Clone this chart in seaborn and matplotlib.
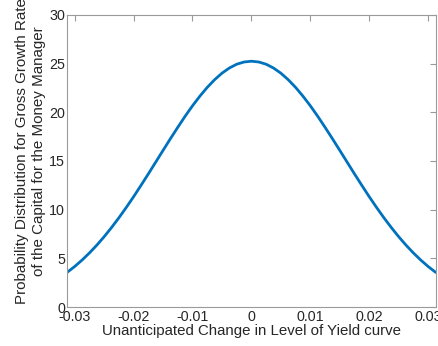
import matplotlib
matplotlib.use('Agg')
import matplotlib.pyplot as plt
import seaborn as sns
import pandas as pd

# values
change = [-0.0313, -0.03, -0.02875, -0.0275, -0.02625, -0.025, -0.02375, -0.0225,
          -0.02125, -0.02, -0.01875, -0.0175, -0.01625, -0.015, -0.01375, -0.0125,
          -0.01125, -0.01, -0.00875, -0.0075, -0.00625, -0.005, -0.00375, -0.0025,
          -0.00125, 0.0, 0.00125, 0.0025, 0.00375, 0.005, 0.00625, 0.0075, 0.00875,
          0.01, 0.01125, 0.0125, 0.01375, 0.015, 0.01625, 0.0175, 0.01875, 0.02,
          0.02125, 0.0225, 0.02375, 0.025, 0.02625, 0.0275, 0.02875, 0.03, 0.0313]
density = [3.55, 4.16, 4.82, 5.55, 6.35, 7.22, 8.16, 9.16,
           10.22, 11.33, 12.49, 13.67, 14.88, 16.09, 17.29, 18.46,
           19.60, 20.67, 21.66, 22.56, 23.35, 24.02, 24.55, 24.94,
           25.17, 25.25, 25.17, 24.94, 24.55, 24.02, 23.35, 22.56, 21.66,
           20.67, 19.60, 18.46, 17.29, 16.09, 14.88, 13.67, 12.49, 11.33,
           10.22, 9.16, 8.16, 7.22, 6.35, 5.55, 4.82, 4.16, 3.55]

x_ticks = [-0.03, -0.02, -0.01, 0, 0.01, 0.02, 0.03]
x_tick_labels = ['-0.03', '-0.02', '-0.01', '0', '0.01', '0.02', '0.03']
y_ticks = [0, 5, 10, 15, 20, 25, 30]

df = pd.DataFrame({'change': change, 'density': density})

sns.set_theme(style='white')
plt.rcParams['font.family'] = ['Liberation Sans', 'DejaVu Sans']
plt.rcParams['axes.unicode_minus'] = False

fig = plt.figure(figsize=(4.38, 3.46), dpi=100)
ax = fig.add_axes([0.153, 0.1127, 0.842, 0.844])

sns.lineplot(data=df, x='change', y='density', ax=ax, color='#0072BD',
             linewidth=2, sort=False)

ax.set_xlim(-0.0313, 0.0313)
ax.set_ylim(0, 30)
ax.set_xticks(x_ticks)
ax.set_xticklabels(x_tick_labels)
ax.set_yticks(y_ticks)

grey = '#9a9a9a'
for sp in ax.spines.values():
    sp.set_color(grey)
    sp.set_linewidth(0.8)
ax.tick_params(direction='in', length=4, width=0.8, color=grey,
               top=True, right=True, labelsize=10.3, labelcolor='#262626')
ax.tick_params(axis='x', pad=2)
ax.tick_params(axis='y', pad=1.5)

ax.set_xlabel('Unanticipated Change in Level of Yield curve', fontsize=10.8,
              color='#262626', labelpad=0.5)
ax.set_ylabel('Probability Distribution for Gross Growth Rate\nof the Capital for the Money Manager',
              fontsize=10.9, color='#262626', multialignment='center')
ax.yaxis.set_label_coords(-0.058, 0.535)

fig.savefig('out.png', dpi=100)
